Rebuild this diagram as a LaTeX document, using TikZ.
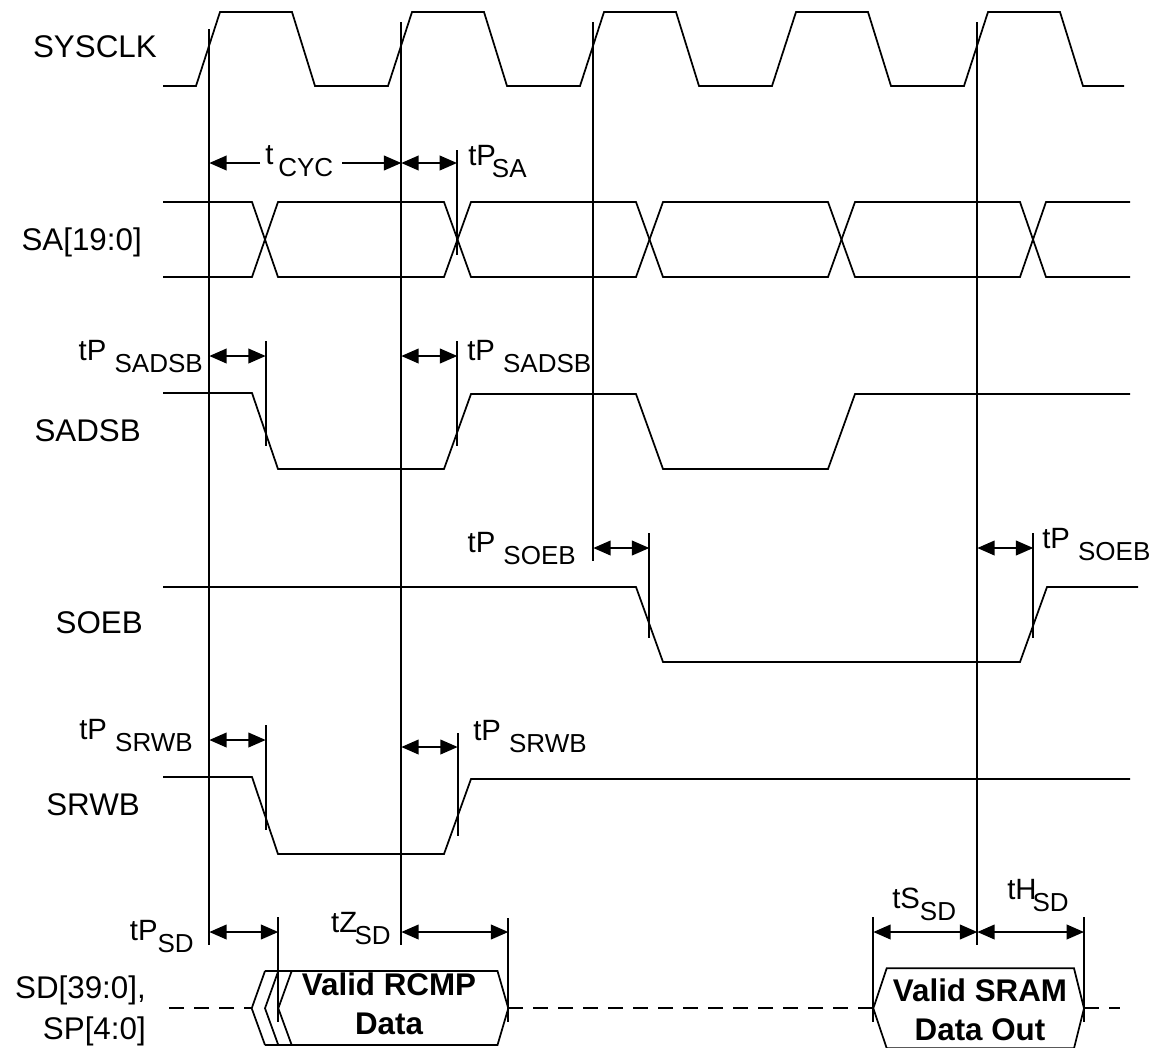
\documentclass[tikz,border=0pt]{standalone}
\usepackage{fontspec}
\setmainfont{Liberation Sans}
\usetikzlibrary{arrows.meta}
\newcommand{\lowtxt}[1]{\raisebox{-9pt}{\fontsize{19.5}{20}\selectfont #1}}

\begin{document}
\begin{tikzpicture}[x=0.75pt,y=-0.75pt]

\tikzstyle{wave}=[line width=1.3pt]
\tikzstyle{ref}=[line width=1.3pt]
\tikzstyle{dim}=[line width=1.3pt,{Triangle[length=13pt,width=11pt]}-{Triangle[length=13pt,width=11pt]}]
\tikzstyle{dimL}=[line width=1.3pt,-{Triangle[length=13pt,width=11pt]}]
\tikzstyle{floatline}=[line width=1.3pt,dash pattern=on 11.25pt off 7.5pt]
\tikzstyle{sig}=[font=\fontsize{23.5}{31}\selectfont,inner sep=0pt,anchor=base east]
\tikzstyle{lbl}=[font=\fontsize{22}{26}\selectfont,inner sep=0pt]
\tikzstyle{boxtxt}=[font=\fontsize{23.5}{29}\selectfont\bfseries,inner sep=0pt,align=center]

\useasboundingbox (0,0) rectangle (1157,1047);

% signal names
\node[sig] (sysclk) at (157,57) {SYSCLK};
\node[sig] (sa) at (142,250) {SA[19:0]};
\node[sig] (sadsb) at (141,441) {SADSB};
\node[sig] (soeb) at (143,633) {SOEB};
\node[sig] (srwb) at (140,815) {SRWB};
\node[sig,align=right,anchor=east] (sd) at (146,1011) {SD[39:0],\\SP[4:0]};

% waveforms
\draw[wave] (163,86) -- (196,86) -- (220,12) -- (292,12) -- (315,86) -- (388,86) -- (412,12) -- (484,12) -- (507,86) -- (580,86) -- (604,12) -- (676,12) -- (699,86) -- (772,86) -- (796,12) -- (868,12) -- (891,86) -- (964,86) -- (988,12) -- (1060,12) -- (1083,86) -- (1124,86);

\draw[wave] (163,202) -- (252,202) -- (278,277) -- (444,277) -- (471,202) -- (636,202) -- (663,277) -- (828,277) -- (855,202) -- (1020,202) -- (1046,277) -- (1130,277);
\draw[wave] (163,277) -- (252,277) -- (278,202) -- (444,202) -- (471,277) -- (636,277) -- (663,202) -- (828,202) -- (855,277) -- (1020,277) -- (1046,202) -- (1130,202);

\draw[wave] (163,393) -- (252,393) -- (278,469) -- (444,469) -- (471,394) -- (636,394) -- (663,469) -- (828,469) -- (855,394) -- (1130,394);

\draw[wave] (163,587) -- (636,587) -- (663,662) -- (1020,662) -- (1047,587) -- (1138,587);

\draw[wave] (163,777) -- (252,777) -- (278,854) -- (444,854) -- (471,779) -- (1130,779);

% reference lines
\coordinate (r1t) at (209.3,29);
\coordinate (r1b) at (209.3,945);
\coordinate (r2t) at (401.3,22);
\coordinate (r2b) at (401.3,945);
\coordinate (r3t) at (593.3,22);
\coordinate (r3b) at (593.3,561);
\coordinate (r4t) at (977.3,22);
\coordinate (r4b) at (977.3,945);
\draw[ref] (r1t) -- (r1b);
\draw[ref] (r2t) -- (r2b);
\draw[ref] (r3t) -- (r3b);
\draw[ref] (r4t) -- (r4b);

% arrow ends
\coordinate (cyc1) at (260,163);
\coordinate (cyc2) at (342,163);
\coordinate (psa) at (457,163);
\coordinate (psadsb1) at (265.7,356);
\coordinate (psadsb2) at (457.3,356);
\coordinate (psoeb1) at (649.3,548);
\coordinate (psoeb2) at (1033.3,548);
\coordinate (psrwb1) at (265.7,740);
\coordinate (psrwb2) at (457.7,747);
\coordinate (psd) at (278.3,932);
\coordinate (zsd) at (508.3,932);
\coordinate (ssd) at (873.3,932);
\coordinate (hsd) at (1084,932);

% tick lines
\draw[ref] (psa) ++(0,-13) -- +(0,105);
\draw[ref] (psadsb1) ++(0,-15) -- +(0,105);
\draw[ref] (psadsb2) ++(0,-15) -- +(0,105);
\draw[ref] (psoeb1) ++(0,-15) -- +(0,105);
\draw[ref] (psoeb2) ++(0,-15) -- +(0,105);
\draw[ref] (psrwb1) ++(0,-15) -- +(0,105);
\draw[ref] (psrwb2) ++(0,-14) -- +(0,103);
\draw[ref] (psd) ++(0,-15) -- +(0,105);
\draw[ref] (zsd) ++(0,-14) -- +(0,104);
\draw[ref] (ssd) ++(0,-15) -- +(0,105);
\draw[ref] (hsd) ++(0,-15) -- +(0,105);

% dimension arrows
\draw[dimL] (cyc1) -- (r1t |- cyc1);
\draw[dimL] (cyc2) -- (r2t |- cyc2);
\draw[dim] (r2t |- psa) -- (psa);
\draw[dim] (r1t |- psadsb1) -- (psadsb1);
\draw[dim] (r2t |- psadsb2) -- (psadsb2);
\draw[dim] (r3t |- psoeb1) -- (psoeb1);
\draw[dim] (r4t |- psoeb2) -- (psoeb2);
\draw[dim] (r1t |- psrwb1) -- (psrwb1);
\draw[dim] (r2t |- psrwb2) -- (psrwb2);
\draw[dim] (r1t |- psd) -- (psd);
\draw[dim] (r2t |- zsd) -- (zsd);
\draw[dim] (ssd) -- (r4t |- ssd);
\draw[dim] (r4t |- hsd) -- (hsd);

% timing labels
\node[lbl,anchor=base west] (tcyc) at (265,164) {t\,\lowtxt{CYC}};
\node[lbl,anchor=base west] (tpsa) at (468,165) {tP\kern-3pt\lowtxt{SA}};
\node[lbl,anchor=base east] (tpsadsb1) at (203,360) {tP \lowtxt{SADSB}};
\node[lbl,anchor=base west] (tpsadsb2) at (467,360) {tP \lowtxt{SADSB}};
\node[lbl,anchor=base east] (tpsoeb1) at (576,552) {tP \lowtxt{SOEB}};
\node[lbl,anchor=base west] (tpsoeb2) at (1042,548) {tP \lowtxt{SOEB}};
\node[lbl,anchor=base east] (tpsrwb1) at (193,739) {tP \lowtxt{SRWB}};
\node[lbl,anchor=base west] (tpsrwb2) at (473,740) {tP \lowtxt{SRWB}};
\node[lbl,anchor=base east] (tpsd) at (194,940) {tP\lowtxt{SD}};
\node[lbl,anchor=base east] (tzsd) at (391,932) {tZ\kern-2pt\lowtxt{SD}};
\node[lbl,anchor=base west] (tssd) at (892,908) {tS\lowtxt{SD}};
\node[lbl,anchor=base west] (thsd) at (1007,899) {tH\kern-3pt\lowtxt{SD}};

% data bus
\coordinate (fl0) at (169,1008.3);
\coordinate (fl1) at (1120,1008.3);
\coordinate (rcmpL) at (251.7,1008.3);
\coordinate (rcmpR) at (508.3,1008.3);
\coordinate (sramL) at (873.3,1008.3);
\coordinate (sramR) at (1084,1008.3);
\draw[floatline] (fl0) -- (rcmpL);
\draw[floatline] (rcmpR) -- (sramL);
\draw[floatline] (sramR) -- (fl1);

\draw[wave] (265,971) -- (497.5,971) -- (rcmpR) -- (497.5,1045) -- (265,1045);
\draw[wave] (265,971) -- (rcmpL) -- (265,1045);
\draw[wave] (278.3,971) -- (265,1008.3) -- (278.3,1045);
\draw[wave] (291.7,971) -- (278.3,1008.3) -- (291.7,1045);
\node[boxtxt] (rcmp) at (389,1004) {Valid RCMP\\Data};

\draw[wave] (sramL) -- (886.7,968.3) -- (1074,968.3) -- (sramR) -- (1074,1048.3) -- (886.7,1048.3) -- cycle;
\node[boxtxt] (sram) at (980,1010) {Valid SRAM\\Data Out};

\end{tikzpicture}
\end{document}
